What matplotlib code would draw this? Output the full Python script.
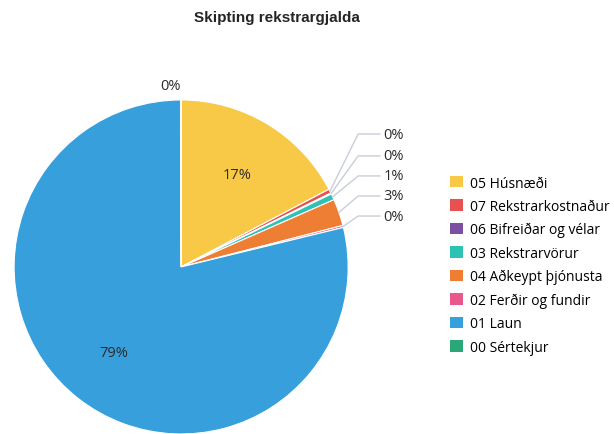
import matplotlib.pyplot as plt
import numpy as np
from matplotlib.patches import Patch

# Gögn
categories = ["05 Húsnæði", "07 Rekstrarkostnaður", "06 Bifreiðar og vélar",
              "03 Rekstrarvörur", "04 Aðkeypt þjónusta", "02 Ferðir og fundir",
              "01 Laun", "00 Sértekjur"]
values = [17.3, 0.4, 0.1, 0.6, 2.6, 0.2, 78.75, 0.05]
colors = ["#F8C946", "#E8514F", "#7B4FA1", "#2EC2B4", "#EE7E33",
          "#E8588A", "#379FDC", "#2BA676"]

plt.rcParams['font.family'] = ['Open Sans', 'DejaVu Sans']

fig = plt.figure(figsize=(6.14, 4.35), dpi=100)
ax = fig.add_axes([0.023, 0.0, 0.544, 0.768])

total = sum(values)
wedges, _ = ax.pie(values, colors=colors, startangle=90, counterclock=False,
                   radius=1.0, wedgeprops=dict(edgecolor='white', linewidth=0.8))
ax.set_xlim(-1, 1)
ax.set_ylim(-1, 1)
ax.set_aspect('equal')

pcts = [f"{v / total * 100:.0f}%" for v in values]

# innri merki
for i in [0, 6]:
    w = wedges[i]
    ang = np.deg2rad((w.theta1 + w.theta2) / 2)
    ax.text(0.65 * np.cos(ang), 0.65 * np.sin(ang), pcts[i],
            ha='center', va='center', fontsize=10.5, color='#2b2b2b')

# ytri merki með leiðarlínum
label_y = [0.796, 0.665, 0.545, 0.425, 0.305]
for k, i in enumerate([1, 2, 3, 4, 5]):
    w = wedges[i]
    ang = np.deg2rad((w.theta1 + w.theta2) / 2)
    x0, y0 = np.cos(ang), np.sin(ang)
    ax.plot([x0, 1.06, 1.19], [y0, label_y[k], label_y[k]],
            color='#C9CED8', lw=1, clip_on=False)
    ax.text(1.21, label_y[k], pcts[i], ha='left', va='center',
            fontsize=10.5, color='#2b2b2b', clip_on=False)

# Sértekjur efst
ax.text(-0.066, 1.084, pcts[7], ha='center', va='center', fontsize=10.5,
        color='#2b2b2b', clip_on=False)

fig.text(0.451, 0.958, "Skipting rekstrargjalda", ha='center', va='center',
         fontsize=11, fontweight='bold', family='Liberation Sans', color='#252525')

handles = [Patch(facecolor=c, edgecolor='none') for c in colors]
fig.legend(handles, categories, loc='upper left', bbox_to_anchor=(0.724, 0.607),
           frameon=False, fontsize=10, handlelength=0.9, handleheight=0.9,
           handletextpad=0.55, labelspacing=0.6, borderaxespad=0)

fig.savefig("out.png", dpi=100)
